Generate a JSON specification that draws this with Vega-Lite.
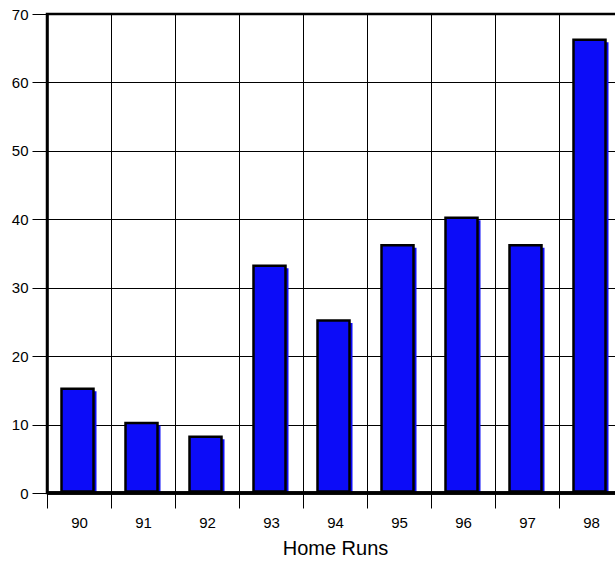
{
  "$schema": "https://vega.github.io/schema/vega-lite/v6.json",
  "autosize": "none",
  "width": 576,
  "height": 479,
  "padding": {"left": 47, "top": 14, "right": -8, "bottom": 69},
  "background": "white",
  "config": {
    "font": "Liberation Sans",
    "view": {"stroke": "black", "strokeWidth": 2.5},
    "axis": {
      "labelFont": "Liberation Sans",
      "titleFont": "Liberation Sans",
      "labelColor": "black",
      "titleColor": "black",
      "labelFontSize": 15,
      "titleFontSize": 20,
      "titleFontWeight": "normal",
      "tickColor": "black",
      "tickWidth": 1,
      "tickSize": 15,
      "gridColor": "black",
      "gridWidth": 1,
      "gridOpacity": 1,
      "domainColor": "black",
      "domainWidth": 2.5
    }
  },
  "data": {
    "values": [
      {"year": "90", "hr": 15},
      {"year": "91", "hr": 10},
      {"year": "92", "hr": 8},
      {"year": "93", "hr": 33},
      {"year": "94", "hr": 25},
      {"year": "95", "hr": 36},
      {"year": "96", "hr": 40},
      {"year": "97", "hr": 36},
      {"year": "98", "hr": 66}
    ]
  },
  "encoding": {
    "x": {
      "field": "year",
      "type": "nominal",
      "sort": null,
      "scale": {"paddingInner": 0, "paddingOuter": 0},
      "axis": {
        "title": "Home Runs",
        "labelAngle": 0,
        "tickBand": "extent",
        "grid": true,
        "domain": false,
        "labelPadding": 7,
        "titlePadding": 8
      }
    },
    "y": {
      "field": "hr",
      "type": "quantitative",
      "scale": {"domain": [0, 70], "nice": false},
      "axis": {
        "title": null,
        "values": [0, 10, 20, 30, 40, 50, 60, 70],
        "grid": true,
        "labelPadding": 4
      }
    }
  },
  "layer": [
    {
      "mark": {"type": "bar", "color": "#0c0cf8", "width": 32, "xOffset": 1.5, "yOffset": 1}
    },
    {
      "mark": {"type": "bar", "color": "#0c0cf8", "stroke": "black", "strokeWidth": 2.5, "width": 32, "xOffset": -1.5, "yOffset": -1.5}
    },
    {
      "mark": {"type": "rule", "color": "black", "strokeWidth": 2.5},
      "encoding": {"y": {"datum": 0}, "x": null}
    }
  ]
}
